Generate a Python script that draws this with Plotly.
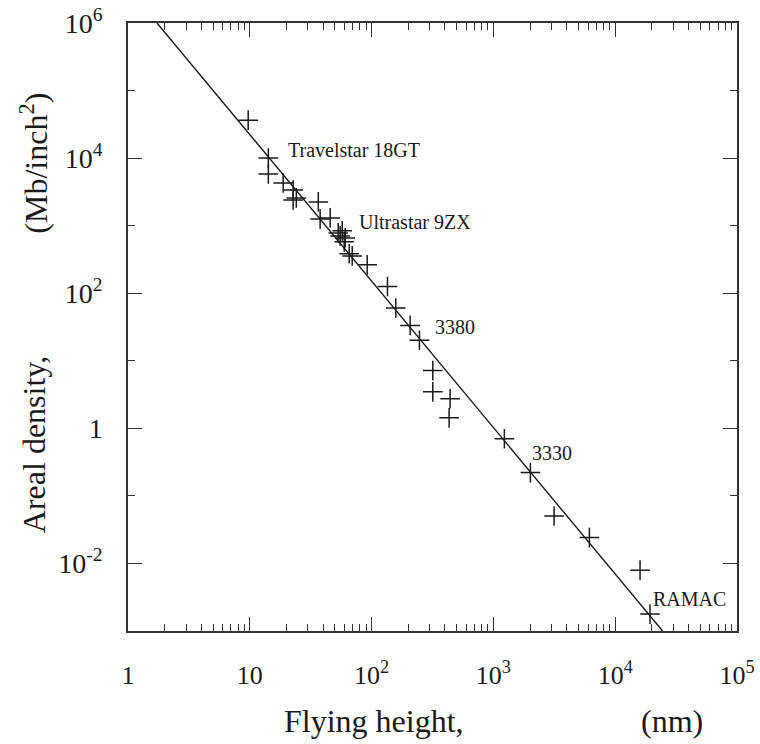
import math
import plotly.graph_objects as go

# Data
height_nm = [9.7, 14.2, 14.2, 18.8, 22.7, 24.1, 22.7, 36.5, 37.8, 45.7, 53.2, 55.2,
             57.4, 59.6, 60.7, 65.5, 69.3, 92, 135, 158, 207, 247, 318, 318, 441,
             433, 1231, 2013, 3150, 6140, 16000, 19300]
density = [36500, 10000, 5820, 4290, 3380, 2575, 2405, 2248, 1260, 1303, 782, 706,
           838, 576, 659, 383, 357, 263, 126, 60.4, 33.4, 20.1, 7.16, 3.47, 2.74,
           1.43, 0.70, 0.221, 0.0505, 0.0242, 0.00796, 0.00178]

fit_x = [1.73, 24500]
fit_y = [1e6, 1e-3]

label_text = ["Travelstar 18GT", "Ultrastar 9ZX", "3380", "3330", "RAMAC"]
label_x = [20.0, 76, 322, 2000, 19700]
label_y = [13200, 1140, 32, 0.425, 0.00297]

x_tickvals = [1, 10, 100, 1000, 10000, 100000]
x_ticktext = ["1", "10", "10<sup>2</sup>", "10<sup>3</sup>", "10<sup>4</sup>", "10<sup>5</sup>"]
y_tickvals = [1e-2, 1, 1e2, 1e4, 1e6]
y_ticktext = ["10<sup>-2</sup>", "1", "10<sup>2</sup>", "10<sup>4</sup>", "10<sup>6</sup>"]

FONT = "Liberation Serif, Times New Roman, serif"
INK = "#1a1a1a"

x_minor = [m * 10 ** d for d in range(0, 5) for m in range(2, 10)]
y_minor = [10 ** d for d in (-3, -1, 1, 3, 5)]

fig = go.Figure()
fig.add_trace(go.Scatter(x=fit_x, y=fit_y, mode="lines",
                         line=dict(color=INK, width=1.4), showlegend=False))
fig.add_trace(go.Scatter(x=height_nm, y=density, mode="markers",
                         marker=dict(symbol="cross-thin", size=14,
                                     line=dict(color=INK, width=1.5)),
                         showlegend=False))

# annotation positions on log axes are given in log10 units
for t, xv, yv in zip(label_text, label_x, label_y):
    fig.add_annotation(x=math.log10(xv), y=math.log10(yv), xref="x", yref="y",
                       text=t, showarrow=False, xanchor="left", yanchor="middle",
                       font=dict(family=FONT, size=20, color=INK))

axis_common = dict(
    showgrid=False, zeroline=False, showline=True, linecolor="#333",
    linewidth=1.5, mirror="allticks", ticks="inside", ticklen=14,
    tickwidth=1.4, tickcolor="#333", automargin=False,
)

fig.update_xaxes(type="log", range=[0, 5], tickmode="array",
                 tickvals=x_tickvals, ticktext=x_ticktext,
                 tickfont=dict(family=FONT, size=26, color=INK),
                 minor=dict(tickmode="array", tickvals=x_minor, ticks="inside",
                            ticklen=7, tickwidth=1.4, tickcolor="#333", showgrid=False),
                 ticklabelstandoff=20,
                 **axis_common)
fig.update_yaxes(type="log", range=[-3, 6], tickmode="array",
                 tickvals=y_tickvals, ticktext=y_ticktext,
                 tickfont=dict(family=FONT, size=28, color=INK),
                 minor=dict(tickmode="array", tickvals=y_minor, ticks="inside",
                            ticklen=7, tickwidth=1.4, tickcolor="#333", showgrid=False),
                 ticklabelstandoff=18,
                 **axis_common)

# Axis titles as split annotations
fig.add_annotation(text="Flying height,", xref="paper", yref="paper",
                   x=0.404, y=-0.148, xanchor="center", yanchor="middle",
                   showarrow=False, font=dict(family=FONT, size=32, color=INK))
fig.add_annotation(text="(nm)", xref="paper", yref="paper",
                   x=0.893, y=-0.148, xanchor="center", yanchor="middle",
                   showarrow=False, font=dict(family=FONT, size=32, color=INK))
fig.add_annotation(text="Areal density,", xref="paper", yref="paper",
                   x=-0.154, y=0.306, xanchor="center", yanchor="middle",
                   textangle=-90, showarrow=False,
                   font=dict(family=FONT, size=32, color=INK))
fig.add_annotation(text="(Mb/inch<sup>2</sup>)", xref="paper", yref="paper",
                   x=-0.154, y=0.769, xanchor="center", yanchor="middle",
                   textangle=-90, showarrow=False,
                   font=dict(family=FONT, size=32, color=INK))

fig.update_layout(
    width=760, height=744,
    margin=dict(l=128, r=23, t=23, b=113),
    paper_bgcolor="white", plot_bgcolor="white",
    showlegend=False,
)

fig.write_html("out.html", config={"displayModeBar": False},
               post_script="document.body.style.margin='0';document.body.style.overflow='hidden';")
